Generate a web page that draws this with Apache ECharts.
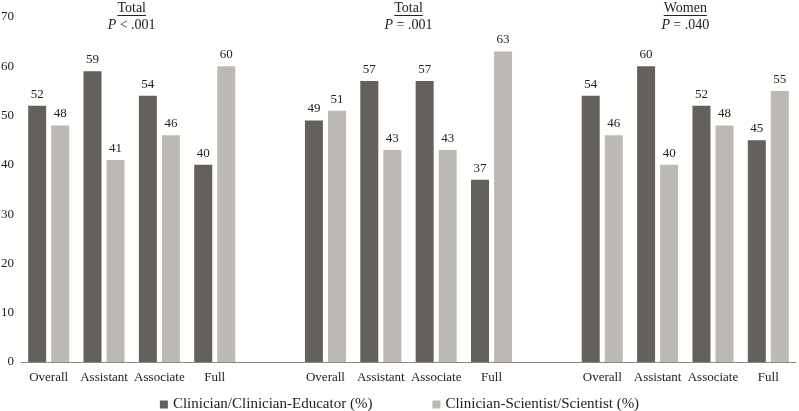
<!DOCTYPE html>
<html>
<head>
<meta charset="utf-8">
<script src="https://cdn.jsdelivr.net/npm/echarts@6/dist/echarts.min.js"></script>
<style>
html,body{margin:0;padding:0;background:#fffffd;}
#chart{width:799px;height:411px;}
</style>
</head>
<body>
<div id="chart"></div>
<script>
var categories = ['Overall','Assistant','Associate','Full','', 'Overall','Assistant','Associate','Full','', 'Overall','Assistant','Associate','Full'];
var educatorValues = [52,59,54,40,null, 49,57,57,37,null, 54,60,52,45];
var scientistValues = [48,41,46,60,null, 51,43,43,63,null, 46,40,48,55];
var seriesNames = ['Clinician/Clinician-Educator (%)','Clinician-Scientist/Scientist (%)'];
var groupTitles = ['Total','Total','Women'];
var groupPs = ['< .001','= .001','= .040'];
var groupRanges = [[0,3],[5,8],[10,13]];
var yTicks = {min:0, max:70, interval:10};

var FONT = 'Liberation Serif';
var chart = echarts.init(document.getElementById('chart'));
var option = {
  backgroundColor: '#fffffd',
  animation: false,
  textStyle: {fontFamily: FONT},
  grid: {left: 21, right: 3, top: 17, bottom: 49, containLabel: false, outerBoundsMode: 'none'},
  legend: {
    top: 392,
    left: 'center',
    itemWidth: 8, itemHeight: 8, itemGap: 60,
    icon: 'rect',
    textStyle: {fontFamily: 'serif', fontSize: 15, color: '#222'},
    data: seriesNames
  },
  xAxis: {
    type: 'category',
    data: categories,
    axisTick: {show: false},
    axisLine: {lineStyle: {color: '#8a8a8a', width: 1}},
    axisLabel: {interval: 0, fontFamily: FONT, fontSize: 13, color: '#222', margin: 9}
  },
  yAxis: {
    type: 'value',
    min: yTicks.min, max: yTicks.max, interval: yTicks.interval,
    splitLine: {show: false},
    axisLine: {show: false},
    axisTick: {show: false},
    axisLabel: {fontFamily: FONT, fontSize: 13, color: '#222', margin: 7}
  },
  series: [
    {
      name: seriesNames[0], type: 'bar', data: educatorValues,
      barWidth: 18, barGap: '28%',
      itemStyle: {color: '#64605e'},
      label: {show: true, position: 'top', distance: 5, fontFamily: FONT, fontSize: 13, color: '#222'}
    },
    {
      name: seriesNames[1], type: 'bar', data: scientistValues,
      barWidth: 18,
      itemStyle: {color: '#bcb9b5'},
      label: {show: true, position: 'top', distance: 5, fontFamily: FONT, fontSize: 13, color: '#222'}
    }
  ]
};
chart.setOption(option);

var graphics = [];
var ctx = document.createElement('canvas').getContext('2d');
ctx.font = '14px "' + FONT + '"';
groupRanges.forEach(function(r, i){
  var x1 = chart.convertToPixel({xAxisIndex: 0}, r[0]);
  var x2 = chart.convertToPixel({xAxisIndex: 0}, r[1]);
  var cx = (x1 + x2) / 2;
  graphics.push({
    type: 'text',
    style: {text: groupTitles[i], fontSize: 14, fontFamily: FONT, fill: '#222', textAlign: 'center', x: cx, y: 1}
  });
  graphics.push({
    type: 'text',
    style: {
      text: '{i|P} {n|' + groupPs[i] + '}', x: cx, y: 18, textAlign: 'center',
      rich: {
        i: {fontStyle: 'italic', fontSize: 14, fontFamily: FONT, fill: '#222'},
        n: {fontSize: 14, fontFamily: FONT, fill: '#222'}
      }
    }
  });
  var tw = ctx.measureText(groupTitles[i]).width;
  graphics.push({
    type: 'line',
    shape: {x1: cx - tw/2, y1: 15.5, x2: cx + tw/2, y2: 15.5},
    style: {stroke: '#222', lineWidth: 1}
  });
});
chart.setOption({graphic: graphics});
</script>
</body>
</html>
